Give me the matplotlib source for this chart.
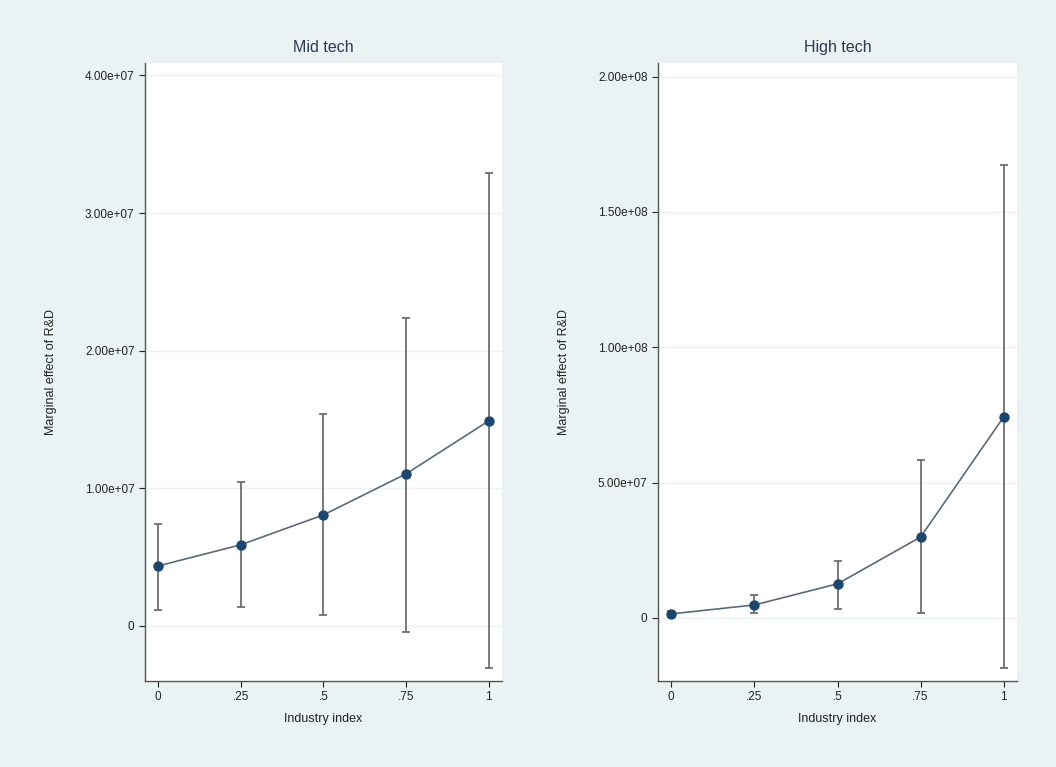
import matplotlib.pyplot as plt
from matplotlib.ticker import FixedLocator

plt.rcParams['font.family'] = ['Liberation Sans', 'DejaVu Sans']

# Industry index values on the x axis
industry_index = [0, 0.25, 0.5, 0.75, 1]
x_tick_labels = ["0", ".25", ".5", ".75", "1"]

# Mid tech: marginal effect of R&D and its confidence bounds
mid_effect = [4.36e6, 5.9e6, 8.07e6, 1.105e7, 1.49e7]
mid_upper = [7.42e6, 1.047e7, 1.54e7, 2.24e7, 3.29e7]
mid_lower = [1.16e6, 1.38e6, 0.8e6, -0.44e6, -3.05e6]
mid_yticks = [0, 1e7, 2e7, 3e7, 4e7]
mid_ytick_labels = ["0", "1.00e+07", "2.00e+07", "3.00e+07", "4.00e+07"]

# High tech
high_effect = [1.5e6, 4.8e6, 1.26e7, 2.99e7, 7.43e7]
high_upper = [2.6e6, 8.5e6, 2.1e7, 5.84e7, 1.674e8]
high_lower = [0.5e6, 1.8e6, 3.3e6, 1.8e6, -1.85e7]
high_yticks = [0, 5e7, 1e8, 1.5e8, 2e8]
high_ytick_labels = ["0", "5.00e+07", "1.00e+08", "1.50e+08", "2.00e+08"]

bg = "#eaf2f3"
navy = "#1a476f"
grey = "#6e6e6e"

fig = plt.figure(figsize=(10.56, 7.67), dpi=100, facecolor=bg)


def draw_panel(ax, title, eff, lo, hi, yticks, ylabels, ylim):
    ax.set_facecolor("white")
    for yv in yticks:
        ax.axhline(yv, color=bg, linewidth=1.0, zorder=0)
    # confidence intervals with caps
    ax.vlines(industry_index, lo, hi, color=grey, linewidth=1.3, zorder=2)
    ax.hlines(lo, [v - 0.012 for v in industry_index], [v + 0.012 for v in industry_index],
              color=grey, linewidth=1.3, zorder=2)
    ax.hlines(hi, [v - 0.012 for v in industry_index], [v + 0.012 for v in industry_index],
              color=grey, linewidth=1.3, zorder=2)
    ax.plot(industry_index, eff, color="#5a6a7a", linewidth=1.2, zorder=3)
    ax.scatter(industry_index, eff, color=navy, s=42, zorder=4)
    ax.set_xlim(-0.04, 1.04)
    ax.set_ylim(*ylim)
    ax.xaxis.set_major_locator(FixedLocator(industry_index))
    ax.set_xticklabels(x_tick_labels)
    ax.yaxis.set_major_locator(FixedLocator(yticks))
    ax.set_yticklabels(ylabels)
    ax.tick_params(axis="both", labelsize=8.5, colors="#222222", length=4, width=0.8)
    for side in ["top", "right"]:
        ax.spines[side].set_visible(False)
    for side in ["left", "bottom"]:
        ax.spines[side].set_color("#555555")
        ax.spines[side].set_linewidth(1.0)
    ax.set_title(title, fontsize=11.5, color="#2b3a55", pad=8)
    ax.set_xlabel("Industry index", fontsize=9, color="#222222", labelpad=7)
    ax.set_ylabel("Marginal effect of R&D", fontsize=9, color="#222222", labelpad=20)


ax1 = fig.add_axes([0.1373, 0.1121, 0.338, 0.8057])
draw_panel(ax1, "Mid tech", mid_effect, mid_lower, mid_upper,
           mid_yticks, mid_ytick_labels, (-0.4e7, 4.09e7))

ax2 = fig.add_axes([0.6231, 0.1121, 0.34, 0.8057])
draw_panel(ax2, "High tech", high_effect, high_lower, high_upper,
           high_yticks, high_ytick_labels, (-0.233e8, 2.05e8))

fig.savefig("out.png", dpi=100, facecolor=bg)
